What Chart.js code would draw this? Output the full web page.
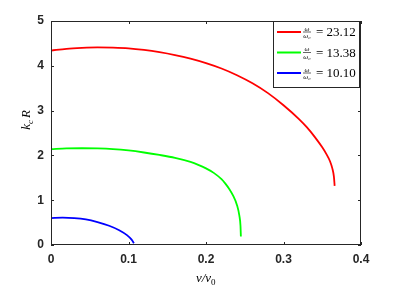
<!DOCTYPE html>
<html><head><meta charset="utf-8">
<script src="https://cdn.jsdelivr.net/npm/chart.js@4/dist/chart.umd.min.js"></script>
<style>html,body{margin:0;padding:0;background:#fff;}#wrap{width:399px;height:286px;}</style>
</head><body><div id="wrap"><canvas id="c" width="399" height="286"></canvas></div>
<script>
const xTicks = [0, 0.1, 0.2, 0.3, 0.4];
const yTicks = [0, 1, 2, 3, 4, 5];
const seriesLabels = ["23.12", "13.38", "10.10"];
const seriesColors = ["#ff0000", "#00ff00", "#0000ff"];
const xRed = [0, 0.02, 0.04, 0.06, 0.08, 0.10, 0.12, 0.14, 0.16, 0.18, 0.20, 0.22, 0.24, 0.26, 0.28, 0.30, 0.32, 0.33, 0.34, 0.35, 0.355, 0.36, 0.363, 0.365, 0.366];
const yRed = [4.34, 4.38, 4.40, 4.41, 4.405, 4.39, 4.355, 4.305, 4.24, 4.16, 4.06, 3.94, 3.79, 3.61, 3.39, 3.12, 2.81, 2.63, 2.42, 2.18, 2.04, 1.87, 1.71, 1.53, 1.32];
const xGreen = [0, 0.02, 0.04, 0.06, 0.08, 0.10, 0.12, 0.14, 0.16, 0.18, 0.19, 0.20, 0.21, 0.22, 0.225, 0.23, 0.235, 0.24, 0.243, 0.2445, 0.245];
const yGreen = [2.14, 2.155, 2.16, 2.155, 2.14, 2.11, 2.065, 2.01, 1.945, 1.855, 1.79, 1.71, 1.61, 1.47, 1.37, 1.25, 1.10, 0.89, 0.66, 0.43, 0.19];
const xBlue = [0, 0.015, 0.03, 0.045, 0.06, 0.075, 0.088, 0.098, 0.104, 0.107];
const yBlue = [0.60, 0.61, 0.60, 0.57, 0.51, 0.43, 0.33, 0.22, 0.12, 0.04];

function pts(xs, ys){ return xs.map((x,i)=>({x:x, y:ys[i]})); }
const allX = [xRed, xGreen, xBlue], allY = [yRed, yGreen, yBlue];

const boxPlugin = {
  id: 'box',
  afterDatasetsDraw(chart){
    const ctx = chart.ctx, a = chart.chartArea, xs = chart.scales.x, ys = chart.scales.y;
    ctx.save();
    ctx.strokeStyle = '#262626'; ctx.lineWidth = 1;
    ctx.strokeRect(a.left+0.5, a.top+0.5, a.right-a.left-1, a.bottom-a.top-1);
    const tl = 3;
    ctx.beginPath();
    xTicks.forEach(v=>{ const p = Math.round(xs.getPixelForValue(v))+0.5;
      ctx.moveTo(p, a.bottom); ctx.lineTo(p, a.bottom-tl);
      ctx.moveTo(p, a.top); ctx.lineTo(p, a.top+tl); });
    yTicks.forEach(v=>{ const p = Math.round(ys.getPixelForValue(v))+0.5;
      ctx.moveTo(a.left, p); ctx.lineTo(a.left+tl, p);
      ctx.moveTo(a.right, p); ctx.lineTo(a.right-tl, p); });
    ctx.stroke();
    // legend
    const lx = 273, ly = a.top, lw = a.right - 2 - lx, lh = 66;
    ctx.fillStyle = '#fff'; ctx.fillRect(lx, ly, lw, lh);
    ctx.strokeStyle = '#262626'; ctx.strokeRect(lx+0.5, ly+0.5, lw, lh);
    seriesLabels.forEach((lab,i)=>{
      const cy = ly + 11 + i*20.5;
      ctx.strokeStyle = seriesColors[i]; ctx.lineWidth = 2;
      ctx.beginPath(); ctx.moveTo(277, cy); ctx.lineTo(301, cy); ctx.stroke();
      ctx.fillStyle = '#000';
      ctx.font = 'italic 7px "Liberation Serif"';
      ctx.textAlign = 'center'; ctx.textBaseline = 'alphabetic';
      ctx.fillText('\u03c9', 307, cy-1.5);
      ctx.fillText('\u03c9\u2080', 307, cy+6);
      ctx.lineWidth = 0.6; ctx.strokeStyle = '#000';
      ctx.beginPath(); ctx.moveTo(303, cy); ctx.lineTo(311, cy); ctx.stroke();
      ctx.font = '13px "Liberation Serif"'; ctx.textAlign = 'left'; ctx.textBaseline = 'middle';
      ctx.fillText('= ' + lab, 316, cy+1);
    });
    // axis titles
    ctx.fillStyle = '#000';
    ctx.font = 'italic 13px "Liberation Serif"'; ctx.textAlign = 'left'; ctx.textBaseline = 'alphabetic';
    const xt = '\u03bd/\u03bd', w1 = ctx.measureText(xt).width;
    const cxT = (a.left + a.right)/2 - (w1+5)/2;
    ctx.fillText(xt, cxT, 282);
    ctx.font = '9px "Liberation Serif"'; ctx.fillText('0', cxT + w1, 285);
    ctx.save();
    ctx.translate(30, 120); ctx.rotate(-Math.PI/2);
    ctx.font = 'italic 13px "Liberation Serif"'; ctx.textAlign = 'left';
    const kw = ctx.measureText('k').width;
    const tot = kw + 5 + ctx.measureText('R').width + 1;
    ctx.fillText('k', -tot/2, 0);
    ctx.font = 'italic 9px "Liberation Serif"'; ctx.fillText('c', -tot/2 + kw, 3);
    ctx.font = 'italic 13px "Liberation Serif"'; ctx.fillText('R', -tot/2 + kw + 6, 0);
    ctx.restore();
    ctx.restore();
  }
};

new Chart(document.getElementById('c'), {
  type: 'scatter',
  data: { datasets: seriesLabels.map((l,i)=>({
    label: l, data: pts(allX[i], allY[i]), showLine: true,
    borderColor: seriesColors[i], backgroundColor: seriesColors[i],
    borderWidth: 1.8, pointRadius: 0, cubicInterpolationMode: 'monotone'
  })) },
  options: {
    responsive: false, animation: false, devicePixelRatio: 1,
    layout: { padding: { left: 0, top: 21, right: 38, bottom: 0 } },
    plugins: { legend: { display: false }, tooltip: { enabled: false } },
    scales: {
      x: { type: 'linear', min: 0, max: 0.4,
        afterBuildTicks(s){ s.ticks = xTicks.map(v=>({value:v})); },
        afterFit(s){ s.height = 41; },
        grid: { display: false, drawTicks: false }, border: { display: false },
        ticks: { padding: 7, color: '#262626', font: { family: '"Liberation Sans"', size: 12, weight: 'bold' },
          callback: v => String(v) } },
      y: { type: 'linear', min: 0, max: 5,
        afterBuildTicks(s){ s.ticks = yTicks.map(v=>({value:v})); },
        afterFit(s){ s.width = 51; },
        grid: { display: false, drawTicks: false }, border: { display: false },
        ticks: { padding: 7, color: '#262626', font: { family: '"Liberation Sans"', size: 12, weight: 'bold' } } }
    }
  },
  plugins: [boxPlugin]
});
</script></body></html>
